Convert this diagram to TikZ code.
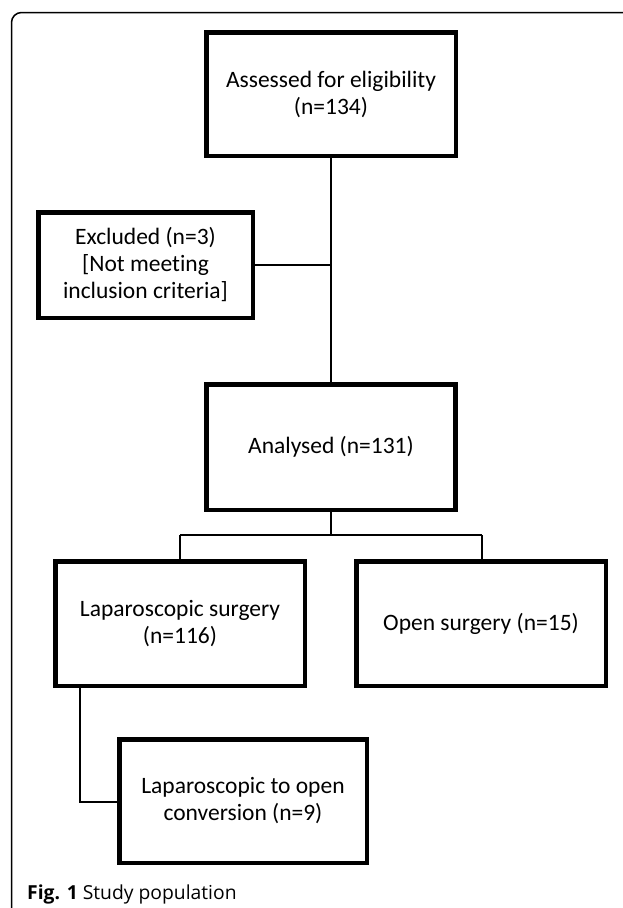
\documentclass[tikz,border=0pt]{standalone}
\usepackage{fontspec}
\setmainfont{Carlito}[Ligatures=NoCommon]
\newfontfamily\capfont{Open Sans}
\begin{document}
\begin{tikzpicture}[x=1pt,y=-1pt,
  flowbox/.style={draw=black, line width=4.5pt, fill=white, align=center,
    font=\fontsize{23.5}{27}\selectfont, inner sep=0pt},
  link/.style={draw=black, line width=2.5pt},
  frameline/.style={draw=black, line width=1.5pt}]
\useasboundingbox (0,0) rectangle (622,908);
% frame
\draw[frameline, rounded corners=10pt] (11.5,910) -- (11.5,12.5) -- (624,12.5);
% boxes
\node[flowbox, minimum width=249.5pt, minimum height=123.5pt] (assess) at (331,94) {Assessed for eligibility\\(n=134)};
\node[flowbox, minimum width=214.5pt, minimum height=105.5pt] (excl) at (145.5,265) {Excluded (n=3)\\{}[Not meeting\\inclusion criteria]};
\node[flowbox, minimum width=249pt, minimum height=125.5pt] (anal) at (331,447) {Analysed (n=131)};
\node[flowbox, minimum width=249.5pt, minimum height=124.5pt] (lap) at (180,623.5) {Laparoscopic surgery\\(n=116)};
\node[flowbox, minimum width=249.5pt, minimum height=124.5pt] (open) at (481,623.5) {Open surgery (n=15)};
\node[flowbox, minimum width=247.5pt, minimum height=123.5pt] (conv) at (243,801) {Laparoscopic to open\\conversion (n=9)};
% connectors
\coordinate (mid) at (331,265);
\coordinate (split) at (331,535);
\coordinate (splitL) at (180,535);
\coordinate (splitR) at (482,535);
\coordinate (lapout) at (80,688);
\coordinate (bend) at (80,802);
\draw[link] (assess.south) -- (anal.north);
\draw[link] (excl.east) -- (mid);
\draw[link] (anal.south) -- (split);
\draw[link] (splitL) -- (splitR);
\draw[link] (splitL) -- (lap.north);
\draw[link] (splitR) -- (splitR |- open.north);
\draw[link] (lapout |- lap.south) -- (bend) -- (conv.west |- bend);
% caption
\node[anchor=base west, inner sep=0pt, font=\capfont\fontsize{19.3}{23}\selectfont] (cap) at (27,899) {\textbf{Fig. 1} Study population};
\end{tikzpicture}
\end{document}
